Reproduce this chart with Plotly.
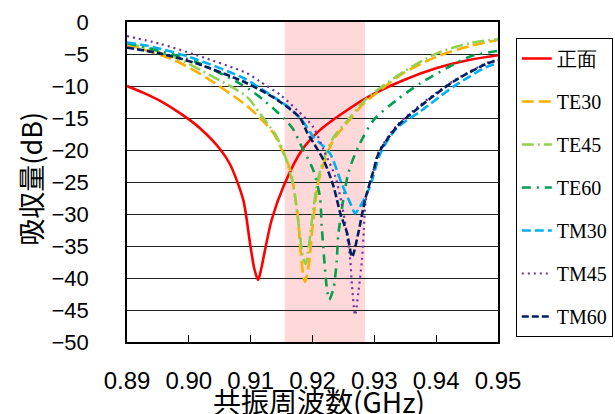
import plotly.graph_objects as go

# ---- data ----
f_front = [0.890, 0.8925, 0.8953, 0.8991, 0.9018, 0.905, 0.9067, 0.9088, 0.9099, 0.9106, 0.9112, 0.9117, 0.9121,
           0.9134, 0.9153, 0.9183, 0.9212, 0.9245, 0.9288, 0.9347, 0.9401, 0.9455, 0.950]
v_front = [-10.0, -11.0, -12.3, -14.6, -16.6, -19.8, -22.3, -27.8, -34.6, -38.6, -40.3, -38.6, -36.7,
           -30.9, -25.7, -20.0, -16.9, -14.5, -11.8, -9.1, -7.2, -5.9, -5.2]

f_te30 = [0.890, 0.8975, 0.903, 0.9094, 0.911, 0.9126, 0.9137, 0.9153, 0.9164, 0.9172, 0.9177, 0.918,
          0.9185, 0.9188, 0.9193, 0.9196, 0.9199, 0.9209, 0.922, 0.9234, 0.926, 0.9277, 0.9293,
          0.9347, 0.9401, 0.9455, 0.950]
v_te30 = [-3.5, -5.9, -8.8, -13.1, -14.5, -16.1, -17.4, -20.5, -23.1, -27.3, -30.9, -35.1,
          -39.5, -40.6, -38.5, -36.4, -33.0, -25.2, -21.6, -18.4, -15.3, -13.3, -11.9,
          -8.0, -5.4, -3.75, -2.8]

f_te45 = [0.890, 0.897, 0.9034, 0.9094, 0.9115, 0.9131, 0.9142, 0.9158, 0.9169, 0.918, 0.9185, 0.9189,
          0.9194, 0.9199, 0.9209, 0.922, 0.9234, 0.926, 0.9277, 0.9293, 0.9347, 0.9401, 0.9455, 0.950]
v_te45 = [-3.3, -5.2, -8.3, -11.7, -14.3, -16.4, -17.9, -21.6, -25.7, -33.5, -37.0, -37.8,
          -35.0, -31.0, -24.5, -21.0, -18.0, -15.0, -13.0, -11.5, -7.8, -4.9, -3.3, -2.7]

f_te60 = [0.890, 0.8953, 0.9013, 0.9077, 0.9099, 0.9121, 0.9153, 0.9169, 0.918, 0.9201, 0.9212, 0.9215,
          0.9223, 0.9227, 0.9234, 0.9239, 0.9242, 0.9258, 0.9274, 0.9299, 0.9336, 0.9374, 0.9417,
          0.9455, 0.950]
v_te60 = [-3.3, -4.5, -6.3, -9.3, -10.6, -12.2, -15.0, -16.8, -19.0, -23.1, -27.3, -32.0,
          -41.4, -43.4, -41.6, -37.5, -33.0, -23.6, -19.5, -15.3, -12.2, -9.6, -7.2,
          -5.4, -4.5]

f_tm30 = [0.890, 0.8942, 0.9002, 0.9088, 0.9137, 0.9164, 0.9185, 0.9201, 0.9228, 0.9247, 0.9262, 0.9269,
          0.9276, 0.9293, 0.931, 0.9336, 0.9374, 0.9428, 0.9482, 0.950]
v_tm30 = [-3.2, -3.9, -5.5, -8.75, -11.7, -13.5, -15.6, -17.9, -20.5, -25.2, -28.5, -29.9,
          -29.0, -25.7, -20.5, -16.6, -14.0, -10.1, -7.0, -6.5]

f_tm45 = [0.890, 0.8953, 0.9013, 0.9094, 0.9115, 0.9148, 0.9175, 0.9201, 0.9218, 0.9237, 0.9247, 0.9253,
          0.9261, 0.9264, 0.9269, 0.9274, 0.928, 0.9283, 0.9286, 0.9299, 0.9307, 0.9336, 0.9374,
          0.9428, 0.9482, 0.950]
v_tm45 = [-2.2, -3.4, -5.2, -8.0, -9.3, -11.4, -13.75, -16.4, -20.0, -24.2, -28.3, -31.5,
          -37.2, -41.4, -45.8, -42.4, -37.2, -32.5, -28.0, -23.0, -20.3, -16.2, -13.0,
          -9.2, -6.4, -5.9]

f_tm60 = [0.890, 0.8953, 0.9013, 0.9088, 0.9121, 0.9148, 0.918, 0.9191, 0.9218, 0.9234, 0.9245, 0.9256,
          0.9264, 0.9274, 0.9285, 0.9299, 0.9307, 0.9336, 0.9374, 0.9428, 0.9482, 0.950]
v_tm60 = [-4.0, -4.9, -6.5, -9.3, -10.9, -12.5, -15.0, -17.2, -21.6, -25.7, -29.9, -33.0,
          -36.7, -33.0, -27.8, -23.1, -20.5, -16.4, -13.2, -9.3, -6.5, -6.0]

x_ticks = [0.89, 0.90, 0.91, 0.92, 0.93, 0.94, 0.95]
x_tick_labels = ["0.89", "0.90", "0.91", "0.92", "0.93", "0.94", "0.95"]
y_ticks = [0, -5, -10, -15, -20, -25, -30, -35, -40, -45, -50]
band = [0.9155, 0.9285]

series = [
    ("正面", f_front, v_front, "#FF0000", "solid", 2.6),
    ("TE30", f_te30, v_te30, "#FFB000", "12px,5px", 2.6),
    ("TE45", f_te45, v_te45, "#92D050", "12px,4px,2px,4px", 2.6),
    ("TE60", f_te60, v_te60, "#00A050", "9px,6px,2px,6px", 2.6),
    ("TM30", f_tm30, v_tm30, "#00B0F0", "9px,4px", 2.6),
    ("TM45", f_tm45, v_tm45, "#7030A0", "2px,4px", 2.2),
    ("TM60", f_tm60, v_tm60, "#002060", "7px,3px", 2.6),
]

fig = go.Figure()
for name, xs, ys, col, dash, w in series:
    fig.add_trace(go.Scatter(x=xs, y=ys, mode="lines", name=name, legendgroup=name,
                             line=dict(color=col, dash=dash, width=w, shape="spline", smoothing=0.75)))

fig.add_shape(type="rect", xref="x", yref="paper", x0=band[0], x1=band[1], y0=0, y1=1,
              fillcolor="#FFD9D9", line=dict(width=0), layer="below")

fig.update_layout(
    width=615, height=414,
    margin=dict(l=127, r=117, t=22, b=72, autoexpand=False),
    paper_bgcolor="white", plot_bgcolor="white",
    font=dict(family="Liberation Sans, Arial, sans-serif", color="black"),
    showlegend=True,
    legend=dict(x=1.048, y=0.95, xanchor="left", yanchor="top",
                font=dict(family="Liberation Serif, Times New Roman, serif", size=20, color="black"),
                bordercolor="black", borderwidth=1, bgcolor="white",
                tracegroupgap=14, itemwidth=30),
    xaxis=dict(range=[0.89, 0.95], tickvals=x_ticks, ticktext=x_tick_labels,
               showgrid=False, zeroline=False, showline=True, linecolor="black", linewidth=1.5,
               mirror=True, ticks="inside", ticklen=7, tickcolor="black", automargin=False,
               tickfont=dict(size=24), ticklabelstandoff=16),
    yaxis=dict(range=[-50, 0], tickvals=y_ticks, showgrid=True, gridcolor="#222222", gridwidth=1.3,
               zeroline=False, showline=True, linecolor="black", linewidth=1.5, mirror=True,
               ticks="", tickfont=dict(size=22), ticklabelstandoff=32, automargin=False),
)

fig.add_annotation(text="吸収量(dB)", xref="paper", yref="paper", x=-0.259, y=0.51,
                   xanchor="center", yanchor="middle", textangle=-90, showarrow=False,
                   font=dict(family="Noto Sans CJK JP", size=27, color="black"))
fig.add_annotation(text="共振周波数(GHz)", xref="paper", yref="paper", x=0.5175, y=-0.185,
                   xanchor="center", yanchor="middle", showarrow=False,
                   font=dict(family="Noto Sans CJK JP", size=28, color="black"))

fig.write_html("out.html", config={"displayModeBar": False},
               post_script="document.body.style.margin='0';document.body.style.overflow='hidden';")
